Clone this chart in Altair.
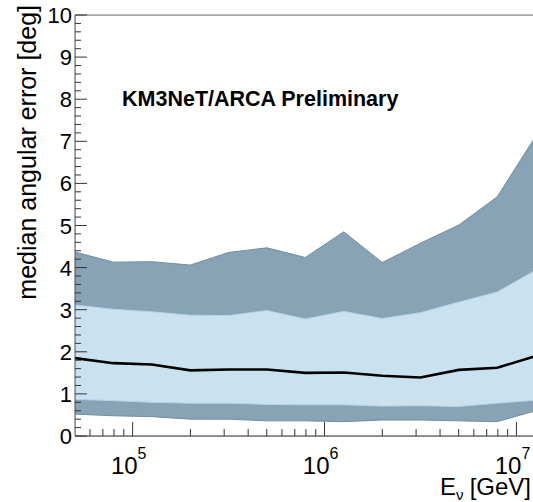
import altair as alt
import pandas as pd

# Neutrino energy bins [GeV] and angular-error quantiles [deg]
energy = [5.01e4, 7.94e4, 1.26e5, 2.00e5, 3.16e5, 5.01e5, 7.94e5,
          1.26e6, 2.00e6, 3.16e6, 5.01e6, 7.94e6, 1.26e7]
outer_hi = [4.37, 4.13, 4.14, 4.06, 4.36, 4.47, 4.24, 4.85, 4.12, 4.58, 5.01, 5.68, 7.12]
inner_hi = [3.11, 3.01, 2.95, 2.87, 2.86, 2.98, 2.78, 2.96, 2.79, 2.93, 3.18, 3.42, 3.94]
median = [1.85, 1.73, 1.70, 1.56, 1.58, 1.58, 1.50, 1.51, 1.43, 1.39, 1.57, 1.62, 1.90]
inner_lo = [0.87, 0.84, 0.80, 0.78, 0.78, 0.75, 0.74, 0.74, 0.71, 0.72, 0.70, 0.78, 0.85]
outer_lo = [0.52, 0.48, 0.46, 0.40, 0.40, 0.36, 0.36, 0.34, 0.38, 0.38, 0.36, 0.34, 0.60]

# Axis tick positions and labels
x_major = [1e5, 1e6, 1e7]
x_exponents = ["5", "6", "7"]
x_minor = [m * 10 ** d for d in (4, 5, 6) for m in range(2, 10)]
x_minor = [v for v in x_minor if 5.01e4 < v < 1.22e7]
y_major = list(range(0, 11))
y_labels = [str(v) for v in y_major]
y_minor = [round(i * 0.2, 1) for i in range(51) if i % 5 != 0]

W, H = 458, 421
FONT = "Liberation Sans"
DARK = "#87a3b5"
LIGHT = "#cae2f0"
AXIS = "#333"

bands = pd.DataFrame(dict(energy=energy, outer_hi=outer_hi, inner_hi=inner_hi,
                          median=median, inner_lo=inner_lo, outer_lo=outer_lo))

x_scale = alt.Scale(type="log", domain=[5.01e4, 1.22e7], nice=False)
y_scale = alt.Scale(domain=[0, 10], nice=False, zero=False)


def X(field):
    return alt.X(field, scale=x_scale, axis=None)


def Y(field):
    return alt.Y(field, scale=y_scale, axis=None)


base = alt.Chart(bands)

outer = base.mark_area(color=DARK, stroke="#6f8ea3", strokeWidth=1, clip=True).encode(
    x=X("energy:Q"), y=Y("outer_lo:Q"), y2="outer_hi:Q")

inner = base.mark_area(color=LIGHT, stroke="#b3d3e6", strokeWidth=1, clip=True).encode(
    x=X("energy:Q"), y=Y("inner_lo:Q"), y2="inner_hi:Q")

med = base.mark_line(color="black", strokeWidth=2.6, clip=True).encode(
    x=X("energy:Q"), y=Y("median:Q"))

one = pd.DataFrame({"a": [0]})

# Frame: left axis, bottom axis, top border
axis_left = alt.Chart(one).mark_rule(color="#555", strokeWidth=1).encode(
    x=alt.value(0), y=alt.value(0), y2=alt.value(H))
axis_bottom = alt.Chart(one).mark_rule(color=AXIS, strokeWidth=1).encode(
    x=alt.value(0), x2=alt.value(W), y=alt.value(H))
frame_top = alt.Chart(one).mark_rule(color="#777", strokeWidth=1.2).encode(
    x=alt.value(0), x2=alt.value(W), y=alt.value(0))

# Inward-pointing ticks on the left axis
ymaj_df = pd.DataFrame({"v": y_major, "lab": y_labels})
ymin_df = pd.DataFrame({"v": y_minor})
y_ticks = alt.layer(
    alt.Chart(ymaj_df).mark_rule(color=AXIS).encode(
        y=Y("v:Q"), x=alt.value(0), x2=alt.value(12)),
    alt.Chart(ymin_df).mark_rule(color=AXIS).encode(
        y=Y("v:Q"), x=alt.value(0), x2=alt.value(6)),
)
y_tick_labels = alt.Chart(ymaj_df).mark_text(
    font=FONT, fontSize=22, align="right", baseline="middle", dy=1, color="black"
).encode(y=Y("v:Q"), x=alt.value(-3), text="lab:N")

y_title = alt.Chart(one).mark_text(
    text="median angular error [deg]", font=FONT, fontSize=25, angle=270,
    align="right", baseline="alphabetic", color="black"
).encode(x=alt.value(-39), y=alt.value(-10))

# Inward-pointing ticks on the bottom axis
xmaj_df = pd.DataFrame({"e": x_major, "exp": x_exponents})
xmin_df = pd.DataFrame({"e": x_minor})
x_ticks = alt.layer(
    alt.Chart(xmaj_df).mark_rule(color=AXIS).encode(
        x=X("e:Q"), y=alt.value(H), y2=alt.value(H - 14)),
    alt.Chart(xmin_df).mark_rule(color=AXIS).encode(
        x=X("e:Q"), y=alt.value(H), y2=alt.value(H - 7)),
)

# Decade labels 10^n
label_base = alt.Chart(xmaj_df).mark_text(
    text="10", font=FONT, fontSize=24, align="right", baseline="alphabetic", dx=5,
    color="black").encode(x=X("e:Q"), y=alt.value(H + 38))
label_exp = alt.Chart(xmaj_df).mark_text(
    font=FONT, fontSize=16, align="left", baseline="alphabetic", dx=5,
    color="black").encode(x=X("e:Q"), y=alt.value(H + 23), text="exp:N")

# Axis title E_nu [GeV]
title_e = alt.Chart(one).mark_text(text="E", font=FONT, fontSize=24, align="left",
                                    baseline="alphabetic", color="black").encode(
    x=alt.value(365), y=alt.value(H + 59))
title_nu = alt.Chart(one).mark_text(text="ν", font=FONT, fontSize=15, align="left",
                                     baseline="alphabetic", color="black").encode(
    x=alt.value(381), y=alt.value(H + 64))
title_unit = alt.Chart(one).mark_text(text="[GeV]", font=FONT, fontSize=24, align="right",
                                       baseline="alphabetic", color="black").encode(
    x=alt.value(W - 2), y=alt.value(H + 59))

# Experiment tag
tag = alt.Chart(one).mark_text(text="KM3NeT/ARCA Preliminary", font=FONT, fontSize=21.5,
                               fontWeight="bold", align="left", baseline="alphabetic",
                               color="black").encode(x=alt.value(47), y=alt.value(91))

chart = alt.layer(
    outer, inner, med, axis_left, axis_bottom, frame_top, y_ticks, x_ticks,
    y_tick_labels, y_title, label_base, label_exp, title_e, title_nu, title_unit, tag,
).properties(
    width=W, height=H,
    padding={"left": 75, "top": 15, "right": 0, "bottom": 66},
    autosize="none",
).configure_view(stroke=None).configure(background="white")

chart.save("out.html", embed_options={"renderer": "svg", "actions": False})
